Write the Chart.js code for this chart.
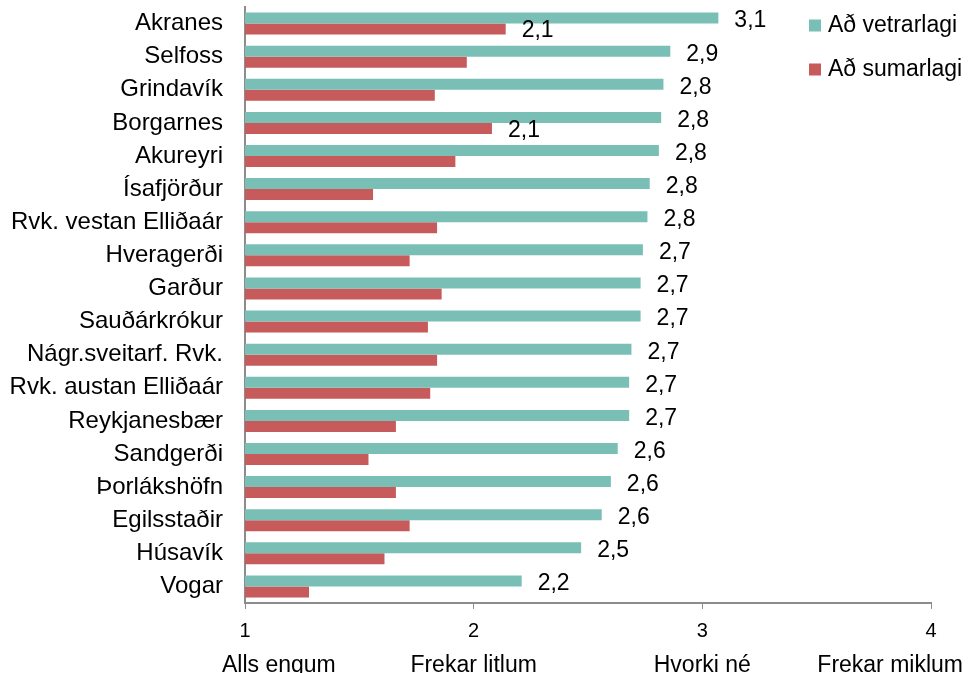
<!DOCTYPE html>
<html>
<head>
<meta charset="utf-8">
<script src="https://cdn.jsdelivr.net/npm/chart.js@4/dist/chart.umd.min.js"></script>
<style>
  html, body { margin: 0; padding: 0; background: #fff; }
  #wrap { width: 968px; height: 673px; position: relative; }
</style>
</head>
<body>
<div id="wrap"><canvas id="chart" width="968" height="673"></canvas></div>
<script>
const places = ['Akranes', 'Selfoss', 'Grindavík', 'Borgarnes', 'Akureyri', 'Ísafjörður',
    'Rvk. vestan Elliðaár', 'Hveragerði', 'Garður', 'Sauðárkrókur', 'Nágr.sveitarf. Rvk.',
    'Rvk. austan Elliðaár', 'Reykjanesbær', 'Sandgerði', 'Þorlákshöfn', 'Egilsstaðir', 'Húsavík', 'Vogar'];
const winter = [3.07, 2.86, 2.83, 2.82, 2.81, 2.77, 2.76, 2.74, 2.73, 2.73, 2.69, 2.68, 2.68, 2.63, 2.60, 2.56, 2.47, 2.21];
const summer = [2.14, 1.97, 1.83, 2.08, 1.92, 1.56, 1.84, 1.72, 1.86, 1.80, 1.84, 1.81, 1.66, 1.54, 1.66, 1.72, 1.61, 1.28];
const seriesNames = ['Að vetrarlagi', 'Að sumarlagi'];
const scaleWords = ['Alls engum', 'Frekar litlum', 'Hvorki né', 'Frekar miklum'];

const colors = ['#7abfb5', '#c75b5b'];
const axisGray = '#8c8c8c';
const fontFamily = '"Liberation Sans", Arial, sans-serif';

function fmt(v) {
    return v.toFixed(1).replace('.', ',');
}

// value labels: all winter bars, summer only when the value reaches 2
const valueLabels = {
    id: 'valueLabels',
    afterDatasetsDraw(chart) {
        const ctx = chart.ctx;
        ctx.save();
        ctx.font = '23px ' + fontFamily;
        ctx.fillStyle = '#000';
        ctx.textAlign = 'left';
        ctx.textBaseline = 'middle';
        chart.data.datasets.forEach((ds, di) => {
            const meta = chart.getDatasetMeta(di);
            meta.data.forEach((bar, i) => {
                const v = ds.data[i];
                if (di === 1 && v < 2) return;
                ctx.fillText(fmt(v), bar.x + 16, bar.y + (di === 0 ? 3 : 2));
            });
        });
        ctx.restore();
    }
};

// legend in the top right corner, over the plot
const cornerLegend = {
    id: 'cornerLegend',
    afterDraw(chart) {
        const ctx = chart.ctx;
        const x = chart.width - 159;
        ctx.save();
        ctx.font = '23px ' + fontFamily;
        ctx.textBaseline = 'middle';
        ctx.textAlign = 'left';
        seriesNames.forEach((name, i) => {
            const y = 25.5 + i * 44;
            ctx.fillStyle = colors[i];
            ctx.fillRect(x, y - 6, 12, 12);
            ctx.fillStyle = '#000';
            ctx.fillText(name, x + 19, y);
        });
        ctx.restore();
    }
};

// the word under each number on the bottom axis
const scaleWordsPlugin = {
    id: 'scaleWords',
    afterDraw(chart) {
        const ctx = chart.ctx;
        const xs = chart.scales.x;
        ctx.save();
        ctx.font = '23px ' + fontFamily;
        ctx.fillStyle = '#000';
        ctx.textAlign = 'center';
        ctx.textBaseline = 'alphabetic';
        scaleWords.forEach((word, i) => {
            const w = ctx.measureText(word).width;
            let cx = xs.getPixelForValue(i + 1);
            cx = Math.max(cx, chart.chartArea.left - 23 + w / 2);
            cx = Math.min(cx, chart.width - 5 - w / 2);
            ctx.fillText(word, cx, 672);
        });
        ctx.restore();
    }
};

new Chart(document.getElementById('chart'), {
    type: 'bar',
    data: {
        labels: places,
        datasets: [
            { label: seriesNames[0], data: winter, backgroundColor: colors[0] },
            { label: seriesNames[1], data: summer, backgroundColor: colors[1] }
        ]
    },
    options: {
        indexAxis: 'y',
        responsive: false,
        animation: false,
        layout: { padding: { top: 7, right: 37, left: 0, bottom: 0 } },
        datasets: { bar: { categoryPercentage: 0.665, barPercentage: 1 } },
        plugins: {
            legend: { display: false },
            tooltip: { enabled: false }
        },
        scales: {
            x: {
                type: 'linear',
                min: 1,
                max: 4,
                ticks: {
                    stepSize: 1,
                    padding: 10,
                    color: '#000',
                    font: { family: fontFamily, size: 20 }
                },
                grid: { drawOnChartArea: false, drawTicks: true, tickLength: 6, color: axisGray },
                border: { color: axisGray, width: 2 },
                afterFit(scale) {
                    scale.height = 70;
                    scale.paddingLeft = 0;
                    scale.paddingRight = 0;
                }
            },
            y: {
                ticks: {
                    padding: 14,
                    color: '#000',
                    font: { family: fontFamily, size: 24 }
                },
                grid: { display: false },
                border: { color: axisGray, width: 2 },
                afterFit(scale) {
                    scale.width = 245;
                    scale.paddingTop = 0;
                    scale.paddingBottom = 0;
                }
            }
        }
    },
    plugins: [valueLabels, cornerLegend, scaleWordsPlugin]
});
</script>
</body>
</html>
